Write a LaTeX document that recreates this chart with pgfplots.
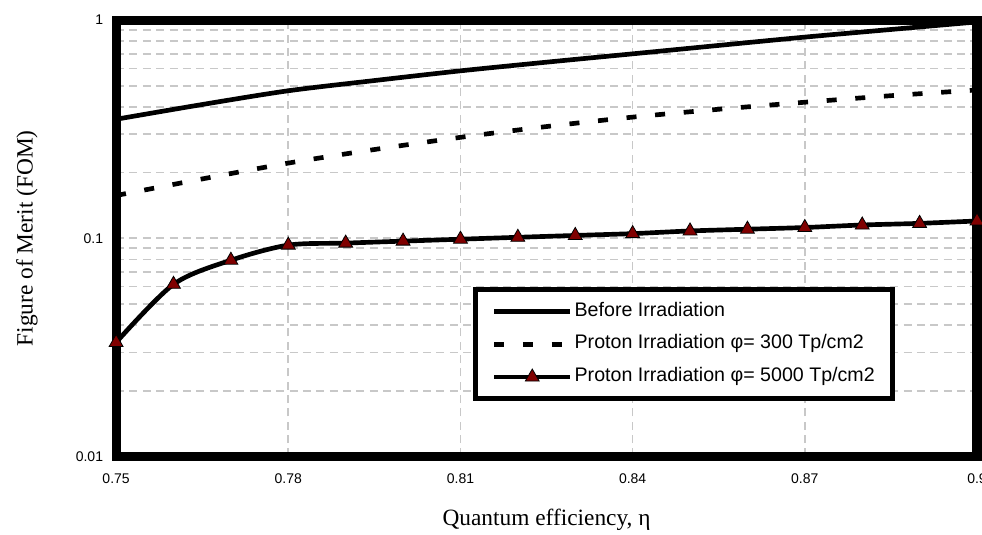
\documentclass[border=0pt]{standalone}
\usepackage{fontspec}
\setmainfont{Liberation Serif}
\newfontfamily\arial{Liberation Sans}
\usepackage{pgfplots}
\pgfplotsset{compat=1.18}
\definecolor{gridgray}{RGB}{200,200,200}
\definecolor{maroon}{RGB}{128,0,0}
\begin{document}
\begin{tikzpicture}
\begin{axis}[
  scale only axis,
  width=645pt, height=327pt,
  xmin=0.75, xmax=0.9,
  ymode=log, ymin=0.01, ymax=1,
  xtick={0.75,0.78,0.81,0.84,0.87,0.9},
  xticklabels={0.75,0.78,0.81,0.84,0.87,0.9},
  ytick={0.01,0.1,1},
  yticklabels={0.01,0.1,1},
  minor ytick={0.02,0.03,0.04,0.05,0.06,0.07,0.08,0.09,0.2,0.3,0.4,0.5,0.6,0.7,0.8,0.9},
  /pgf/number format/assume math mode=true,
  major tick length=0pt, minor tick length=0pt,
  xmajorgrids=true, ymajorgrids=true, yminorgrids=true,
  major grid style={gridgray, line width=1.2pt, dash pattern=on 6pt off 4pt},
  minor grid style={gridgray, line width=1.2pt, dash pattern=on 6pt off 4pt},
  axis line style={line width=6.75pt, line cap=rect},
  tick label style={font=\arial\fontsize{10.5}{12}\selectfont},
  xticklabel style={anchor=center, yshift=-16.5pt},
  yticklabel style={anchor=east, xshift=-6.25pt},
  xlabel={Quantum efficiency, η},
  ylabel={Figure of Merit (FOM)},
  label style={font=\fontsize{17.5}{20}\selectfont},
  xlabel style={at={(axis description cs:0.5,0)}, anchor=base, yshift=-52pt},
  ylabel style={at={(axis description cs:-0.1035,0.5)}, anchor=center},
  legend image code/.code={\draw[mark repeat=2,mark phase=2,#1] plot coordinates {(0pt,0pt) (28.5pt,0pt) (57pt,0pt)};},
  legend style={at={(axis description cs:0.415,0.388)}, anchor=north west,
    draw=black, line width=3.75pt, inner xsep=12pt, inner ysep=4pt,
    font=\arial\fontsize{14.7}{17}\selectfont,
    nodes={inner xsep=1.5pt, inner ysep=4.8pt, text height=11pt, text depth=4pt},
    cells={anchor=west}},
]
\coordinate (sw) at (rel axis cs:0,0);
\coordinate (ne) at (rel axis cs:1,1);
\addplot[black, line width=3.5pt, smooth, tension=0.5] coordinates {
  (0.75,0.351) (0.765,0.410) (0.78,0.474) (0.795,0.528) (0.81,0.585)
  (0.825,0.641) (0.84,0.700) (0.855,0.765) (0.87,0.835) (0.885,0.905) (0.9,0.98)};
\addlegendentry{Before Irradiation}
\addplot[black, line width=3.5pt, dash pattern=on 7.5pt off 14pt, smooth, tension=0.5] coordinates {
  (0.75,0.157) (0.765,0.187) (0.78,0.221) (0.795,0.255) (0.81,0.290)
  (0.825,0.325) (0.84,0.359) (0.855,0.390) (0.87,0.420) (0.885,0.450) (0.9,0.478)};
\addlegendentry{Proton Irradiation φ= 300 Tp/cm2}
\addplot[black, line width=3.5pt, smooth, tension=0.5, mark=triangle*, mark size=6pt,
  mark options={solid, fill=maroon, draw=black, line width=0.6pt}] coordinates {
  (0.75,0.0333) (0.76,0.0615) (0.77,0.0793) (0.78,0.093) (0.79,0.095) (0.80,0.097)
  (0.81,0.099) (0.82,0.101) (0.83,0.103) (0.84,0.105) (0.85,0.108) (0.86,0.110)
  (0.87,0.112) (0.88,0.115) (0.89,0.117) (0.90,0.120)};
\addlegendentry{Proton Irradiation φ= 5000 Tp/cm2}
\end{axis}
\pgfresetboundingbox
\path[use as bounding box] ([xshift=-87pt, yshift=-58.5pt]sw) rectangle ([xshift=3.75pt, yshift=15pt]ne);
\end{tikzpicture}
\end{document}
